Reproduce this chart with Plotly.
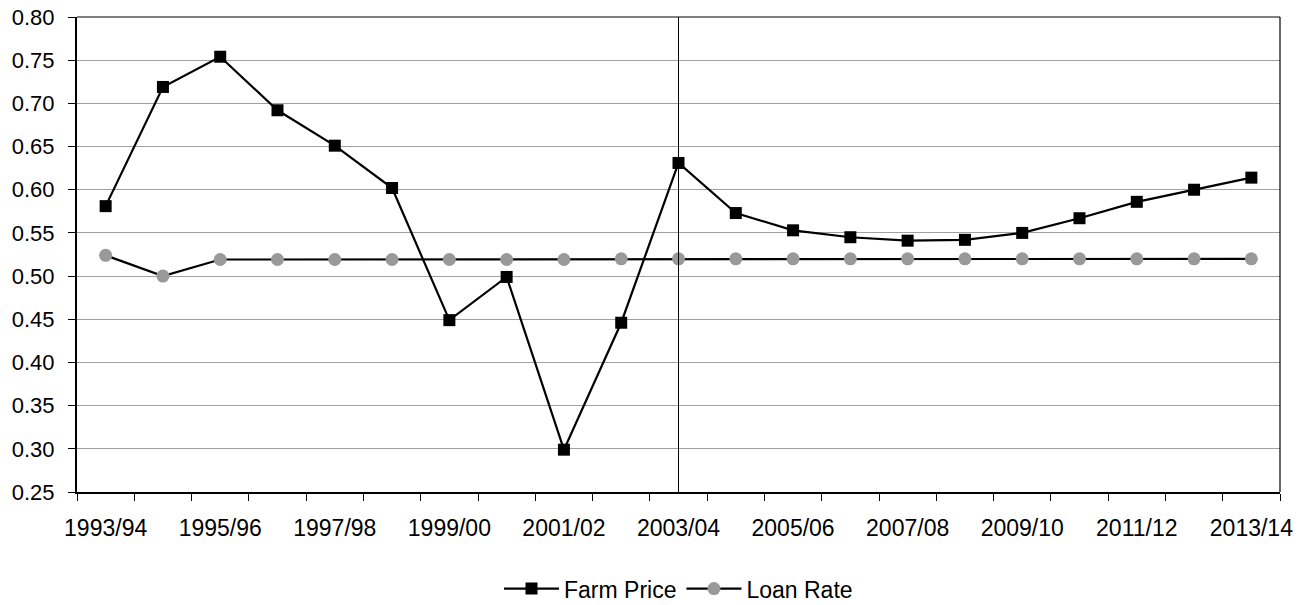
import plotly.graph_objects as go

years = ["1993/94", "1994/95", "1995/96", "1996/97", "1997/98", "1998/99", "1999/00",
         "2000/01", "2001/02", "2002/03", "2003/04", "2004/05", "2005/06", "2006/07",
         "2007/08", "2008/09", "2009/10", "2010/11", "2011/12", "2012/13", "2013/14"]
farm_price = [0.581, 0.719, 0.754, 0.692, 0.651, 0.602, 0.449, 0.499, 0.299, 0.446, 0.631,
              0.573, 0.553, 0.545, 0.541, 0.542, 0.550, 0.567, 0.586, 0.600, 0.614]
loan_rate = [0.524, 0.500, 0.5192, 0.5192, 0.5192, 0.5192, 0.5192, 0.5192, 0.5192, 0.52, 0.52,
             0.52, 0.52, 0.52, 0.52, 0.52, 0.52, 0.52, 0.52, 0.52, 0.52]
divider_year = "2003/04"
y_ticks = [0.25, 0.30, 0.35, 0.40, 0.45, 0.50, 0.55, 0.60, 0.65, 0.70, 0.75, 0.80]

idx = list(range(len(years)))
font_family = "Liberation Sans, Arial, sans-serif"

fig = go.Figure()
fig.add_trace(go.Scatter(
    x=idx, y=farm_price, name="Farm Price", mode="lines+markers",
    line=dict(color="black", width=2.2),
    marker=dict(symbol="square", size=12, color="black"),
))
fig.add_trace(go.Scatter(
    x=idx, y=loan_rate, name="Loan Rate", mode="lines+markers",
    line=dict(color="black", width=2.2),
    marker=dict(symbol="circle", size=13, color="#999999"),
))

div_x = years.index(divider_year)
fig.add_shape(type="line", xref="x", yref="paper", x0=div_x, x1=div_x, y0=0, y1=1,
              line=dict(color="black", width=1))
# top and right frame lines
fig.add_shape(type="line", xref="paper", yref="paper", x0=0, x1=1, y0=1, y1=1,
              line=dict(color="black", width=1))
fig.add_shape(type="line", xref="paper", yref="paper", x0=1, x1=1, y0=0, y1=1,
              line=dict(color="black", width=1.2))

fig.update_layout(
    width=1310, height=605,
    margin=dict(l=77, r=30, t=17, b=113, autoexpand=False),
    paper_bgcolor="white", plot_bgcolor="white",
    font=dict(family=font_family, size=21, color="black"),
    showlegend=True,
    legend=dict(orientation="h", x=0.5, xanchor="center",
                yref="container", y=0.027, yanchor="middle",
                font=dict(size=23), tracegroupgap=0, itemwidth=55),
)
fig.update_xaxes(
    range=[-0.5, len(years) - 0.5], automargin=False,
    tickmode="array", tickvals=idx[::2], ticktext=years[::2],
    ticks="outside", ticklen=7, tickcolor="rgba(0,0,0,0)", ticklabelstandoff=7,
    showgrid=False, zeroline=False,
    showline=True, linecolor="black", linewidth=2,
    minor=dict(tick0=-0.5, dtick=1, ticks="outside", ticklen=7, tickcolor="black",
               tickwidth=1, showgrid=False),
    tickfont=dict(size=23),
)
fig.update_yaxes(
    range=[0.25, 0.80], automargin=False,
    tickmode="array", tickvals=y_ticks, ticktext=[f"{v:.2f}" for v in y_ticks],
    ticks="outside", ticklen=7, tickcolor="black", ticklabelstandoff=9,
    showgrid=True, gridcolor="#a0a0a0", gridwidth=1,
    zeroline=False,
    showline=True, linecolor="black", linewidth=2,
    tickfont=dict(size=22),
)

fig.write_html("out.html")
